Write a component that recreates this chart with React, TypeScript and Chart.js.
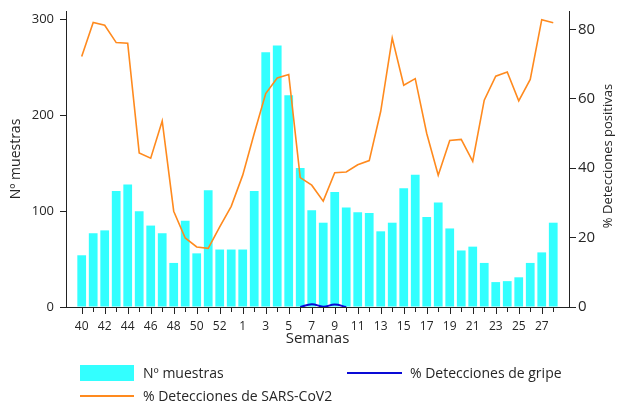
import React, { useEffect, useRef } from "react";
import { Chart, registerables } from "chart.js";

Chart.register(...registerables);

const weeks = [
  "40", "41", "42", "43", "44", "45", "46", "47", "48", "49", "50", "51", "52", "53",
  "1", "2", "3", "4", "5", "6", "7", "8", "9", "10", "11", "12", "13", "14",
  "15", "16", "17", "18", "19", "20", "21", "22", "23", "24", "25", "26", "27", "28",
];

const muestras = [
  54, 77, 80, 121, 128, 100, 85, 77, 46, 90, 56, 122, 60, 60,
  60, 121, 266, 273, 221, 145, 101, 88, 120, 104, 99, 98, 79, 88,
  124, 138, 94, 109, 82, 59, 63, 46, 26, 27, 31, 46, 57, 88,
];

const sarsCov2 = [
  72.2, 82, 81.2, 76.2, 76, 44.4, 42.9, 53.6, 27.6, 19.9, 17.3, 16.9, 23.1, 29,
  38, 50, 61.5, 66, 67, 37.3, 35.1, 30.5, 38.7, 38.9, 41, 42.2, 56.4, 77.5,
  63.9, 65.8, 50, 38, 48, 48.3, 42, 59.6, 66.5, 67.7, 59.4, 65.6, 82.8, 81.9,
];

const gripe: (number | null)[] = [
  null, null, null, null, null, null, null, null, null, null, null, null, null, null,
  null, null, null, null, null, 0, 0.8, 0.1, 0.7, 0, null, null, null, null,
  null, null, null, null, null, null, null, null, null, null, null, null, null, null,
];

const leftTicks = [0, 100, 200, 300];
const rightTicks = [0, 20, 40, 60, 80];

const FONT = "'Open Sans', sans-serif";
const TEXT = "#262626";
const AXIS = "#222";
const CYAN = "#33FFFF";
const ORANGE = "#FF8A1E";
const BLUE = "#0A0AD6";

const extrasPlugin = {
  id: "extras",
  afterDraw(chart: any) {
    const { ctx, chartArea } = chart;
    const xs = chart.scales.x;
    ctx.save();
    ctx.strokeStyle = AXIS;
    ctx.lineWidth = 1;
    weeks.forEach((_, i) => {
      const px = Math.round(xs.getPixelForValue(i)) + 0.5;
      const len = i % 2 === 0 ? 7 : 5;
      ctx.beginPath();
      ctx.moveTo(px, chartArea.bottom);
      ctx.lineTo(px, chartArea.bottom + len);
      ctx.stroke();
    });
    ctx.translate(608, (chartArea.top + chartArea.bottom) / 2 - 3);
    ctx.rotate(-Math.PI / 2);
    ctx.fillStyle = TEXT;
    ctx.font = `13px ${FONT}`;
    ctx.textAlign = "center";
    ctx.textBaseline = "middle";
    ctx.fillText("% Detecciones positivas", 0, 0);
    ctx.restore();
  },
};

export default function App() {
  const ref = useRef<HTMLCanvasElement | null>(null);

  useEffect(() => {
    document.body.style.margin = "0";
    if (!ref.current) return;
    const pts = (arr: (number | null)[]) => arr.map((v, i) => ({ x: i, y: v }));
    const chart = new Chart(ref.current, {
      type: "bar",
      data: {
        datasets: [
          {
            type: "line",
            label: "% Detecciones de SARS-CoV2",
            data: pts(sarsCov2) as any,
            yAxisID: "y1",
            borderColor: ORANGE,
            borderWidth: 1.6,
            pointRadius: 0,
            tension: 0,
            order: 1,
          },
          {
            type: "line",
            label: "% Detecciones de gripe",
            data: pts(gripe) as any,
            yAxisID: "y1",
            borderColor: BLUE,
            borderWidth: 2,
            pointRadius: 0,
            tension: 0.4,
            spanGaps: false,
            order: 0,
          },
          {
            type: "bar",
            label: "Nº muestras",
            data: pts(muestras) as any,
            yAxisID: "y",
            backgroundColor: CYAN,
            borderWidth: 0,
            barPercentage: 0.76,
            categoryPercentage: 1,
            order: 2,
          },
        ],
      },
      options: {
        animation: false,
        responsive: false,
        maintainAspectRatio: false,
        layout: { padding: { top: 11, bottom: 51, left: 0, right: 0 } },
        plugins: {
          legend: { display: false },
          tooltip: { enabled: false },
        },
        scales: {
          x: {
            type: "linear",
            position: "bottom",
            offset: false,
            min: -1.365,
            max: 42.37,
            afterBuildTicks: (scale: any) => {
              scale.ticks = weeks.map((_, i) => ({ value: i }));
            },
            afterFit: (scale: any) => {
              scale.height = 43;
            },
            grid: {
              offset: false,
              drawOnChartArea: false,
              drawTicks: false,
            },
            border: { display: true, color: AXIS, width: 1 },
            ticks: {
              autoSkip: false,
              maxRotation: 0,
              padding: 12,
              color: TEXT,
              font: { family: FONT, size: 12 },
              callback: (value: any) => {
                const i = Math.round(Number(value));
                return i % 2 === 0 ? weeks[i] : "";
              },
            },
            title: {
              display: true,
              text: "Semanas",
              color: TEXT,
              font: { family: FONT, size: 15 },
              padding: { top: 0, bottom: 2 },
            },
          },
          y: {
            type: "linear",
            position: "left",
            min: 0,
            max: 309,
            afterBuildTicks: (scale: any) => {
              scale.ticks = leftTicks.map((v) => ({ value: v }));
            },
            afterFit: (scale: any) => {
              scale.width = 66;
              scale.paddingTop = 0;
              scale.paddingBottom = 0;
            },
            grid: { drawOnChartArea: false, tickLength: 6, tickColor: AXIS },
            border: { display: true, color: AXIS, width: 1 },
            ticks: {
              padding: 6,
              color: TEXT,
              font: { family: FONT, size: 13 },
            },
            title: {
              display: true,
              text: "Nº muestras",
              color: TEXT,
              font: { family: FONT, size: 14 },
              padding: { top: 8, bottom: 0 },
            },
          },
          y1: {
            type: "linear",
            position: "right",
            min: 0,
            max: 85.3,
            afterBuildTicks: (scale: any) => {
              scale.ticks = rightTicks.map((v) => ({ value: v }));
            },
            afterFit: (scale: any) => {
              scale.width = 49;
              scale.paddingTop = 0;
              scale.paddingBottom = 0;
            },
            grid: { drawOnChartArea: false, tickLength: 7, tickColor: AXIS },
            border: { display: true, color: AXIS, width: 1 },
            ticks: {
              padding: 2,
              color: TEXT,
              font: { family: FONT, size: 15 },
            },
          },
        },
      },
      plugins: [extrasPlugin],
    });
    return () => chart.destroy();
  }, []);

  const legendText: React.CSSProperties = {
    position: "absolute",
    fontFamily: FONT,
    fontSize: 14,
    color: TEXT,
    lineHeight: "16px",
    whiteSpace: "nowrap",
  };

  return (
    <div style={{ position: "relative", width: 618, height: 401, overflow: "hidden", background: "#fff" }}>
      <canvas ref={ref} width={618} height={401} style={{ display: "block", width: 618, height: 401 }} />
      <div style={{ position: "absolute", left: 80, top: 365, width: 54, height: 16, background: CYAN }} />
      <div style={{ ...legendText, left: 143, top: 365 }}>Nº muestras</div>
      <div style={{ position: "absolute", left: 347, top: 372, width: 55, height: 2, background: BLUE }} />
      <div style={{ ...legendText, left: 410, top: 365 }}>% Detecciones de gripe</div>
      <div style={{ position: "absolute", left: 80, top: 395, width: 54, height: 2, background: ORANGE }} />
      <div style={{ ...legendText, left: 143, top: 388 }}>% Detecciones de SARS-CoV2</div>
    </div>
  );
}
